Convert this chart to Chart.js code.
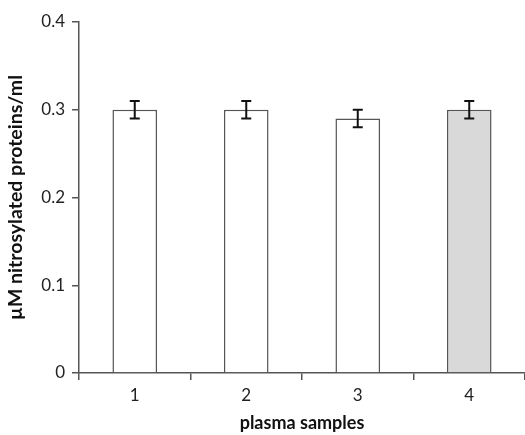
<!DOCTYPE html>
<html>
<head>
<meta charset="utf-8">
<script src="https://cdn.jsdelivr.net/npm/chart.js@4"></script>
<style>
  html, body { margin: 0; padding: 0; background: #fff; }
  #wrap { width: 525px; height: 435px; }
</style>
</head>
<body>
<div id="wrap"><canvas id="c" width="525" height="435"></canvas></div>
<script>
const samples = ['1', '2', '3', '4'];
const values = [0.30, 0.30, 0.29, 0.30];
const errors = [0.01, 0.01, 0.01, 0.01];
const fills = ['#ffffff', '#ffffff', '#ffffff', '#d9d9d9'];

// draws the +/- error bars on top of each bar
const errorBars = {
  id: 'errorBars',
  afterDatasetsDraw(chart) {
    const ctx = chart.ctx;
    const y = chart.scales.y;
    const meta = chart.getDatasetMeta(0);
    ctx.save();
    ctx.strokeStyle = '#111';
    ctx.lineWidth = 2;
    meta.data.forEach((bar, i) => {
      const top = y.getPixelForValue(values[i] + errors[i]);
      const bot = y.getPixelForValue(values[i] - errors[i]);
      const cap = 5;
      ctx.beginPath();
      ctx.moveTo(bar.x, top); ctx.lineTo(bar.x, bot);
      ctx.moveTo(bar.x - cap, top); ctx.lineTo(bar.x + cap, top);
      ctx.moveTo(bar.x - cap, bot); ctx.lineTo(bar.x + cap, bot);
      ctx.stroke();
    });
    ctx.restore();
  }
};

new Chart(document.getElementById('c'), {
  type: 'bar',
  data: {
    labels: samples,
    datasets: [{
      data: values,
      backgroundColor: fills,
      borderColor: '#555',
      borderWidth: 1.5,
      barPercentage: 0.4,
      categoryPercentage: 1
    }]
  },
  options: {
    responsive: false,
    animation: false,
    layout: { padding: { top: 22, right: 0, left: 0, bottom: 0 } },
    plugins: { legend: { display: false }, tooltip: { enabled: false } },
    scales: {
      x: {
        grid: { offset: true, drawOnChartArea: false, tickLength: 7, color: '#555', lineWidth: 1.5 },
        border: { color: '#555', width: 1.5 },
        ticks: { color: '#222', font: { family: 'Lato', size: 17 }, padding: 5 },
        title: { display: true, text: 'plasma samples', color: '#111',
                 font: { family: 'Lato', size: 18, weight: 'bold' }, padding: { top: 2, bottom: 1 } },
        afterFit(s) { s.height = 62; }
      },
      y: {
        min: 0, max: 0.4,
        ticks: { stepSize: 0.1, color: '#222', font: { family: 'Lato', size: 17 }, padding: 7,
                 callback: v => v === 0 ? '0' : v.toFixed(1) },
        grid: { drawOnChartArea: false, tickLength: 7, color: '#555', lineWidth: 1.5 },
        border: { color: '#555', width: 1.5 },
        title: { display: true, text: 'µM nitrosylated proteins/ml', color: '#111',
                 font: { family: 'Lato', size: 19.5, weight: 'bold' }, padding: { bottom: 0 } },
        afterFit(s) { s.width = 79; }
      }
    }
  },
  plugins: [errorBars]
});
</script>
</body>
</html>
